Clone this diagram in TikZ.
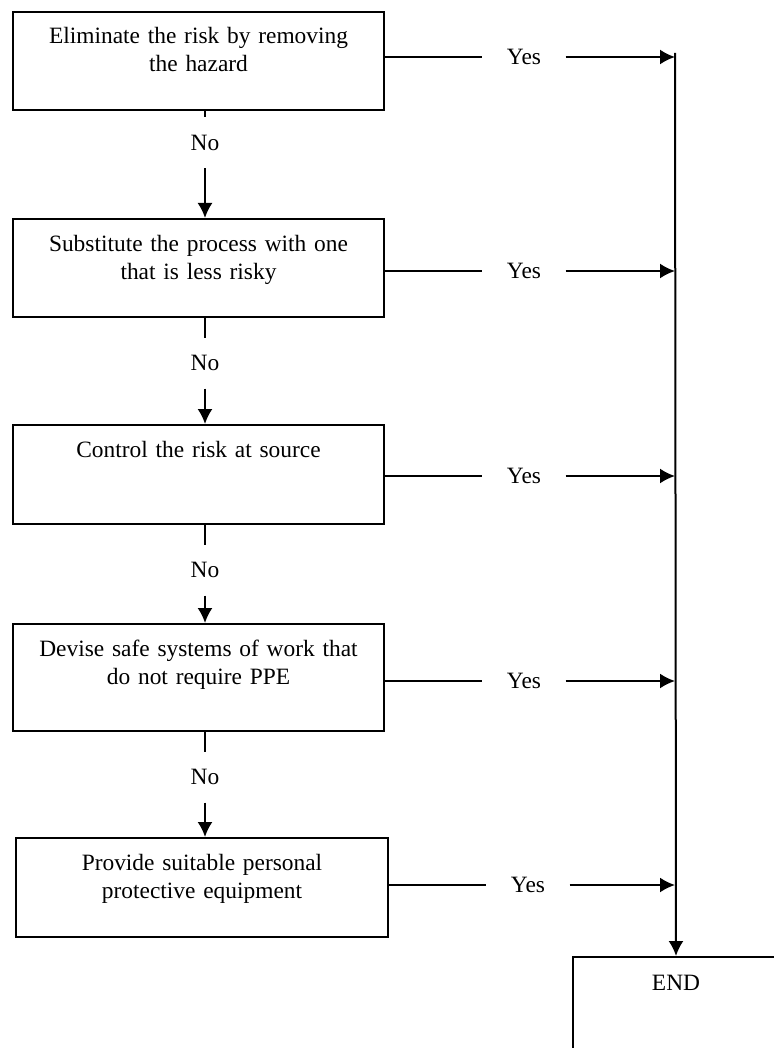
\documentclass[tikz,border=0pt]{standalone}
\usepackage{fontspec}
\setmainfont{Liberation Serif}
\usetikzlibrary{positioning, arrows.meta}

\begin{document}
\begin{tikzpicture}[
x=0.5pt, y=-0.5pt,
line width=1pt,
stepbox/.style 2 args={rectangle,
  draw=black,
  anchor=north west,
  inner sep=0pt,
  minimum width=#1,
  minimum height=#2
},
steptext/.style={
  text width=180pt,
  align=center,
  inner sep=0pt,
  font=\fontsize{11.7}{14}\selectfont
},
yesnode/.style={
  inner xsep=11.75pt,
  inner ysep=0pt,
  font=\fontsize{11.7}{14}\selectfont
},
nonode/.style={
  minimum height=24.5pt,
  inner sep=0pt,
  font=\fontsize{11.7}{14}\selectfont
},
>={Latex[length=7.5pt,width=7.5pt]}
]
\useasboundingbox (0,0) rectangle (773,1048);

\node[stepbox={185.5pt}{49pt}] (elim) at (12,10.7) {};
\node[steptext, below=8pt of elim.north] (elimtxt)
    {Eliminate the risk by removing\\the hazard};
\node[stepbox={185.5pt}{49pt}] (subst) at (12,218) {};
\node[steptext, below=8pt of subst.north] (substtxt)
    {Substitute the process with one\\that is less risky};
\node[stepbox={185.5pt}{49.5pt}] (ctrl) at (12,424) {};
\node[steptext, below=8pt of ctrl.north] (ctrltxt)
    {Control the risk at source};
\node[stepbox={185.5pt}{53.5pt}] (devise) at (12,623) {};
\node[steptext, below=8pt of devise.north] (devisetxt)
    {Devise safe systems of work that\\do not require PPE};
\node[stepbox={186pt}{49.5pt}] (ppe) at (15,837) {};
\node[steptext, below=8pt of ppe.north] (ppetxt)
    {Provide suitable personal\\protective equipment};
\node[stepbox={103pt}{60pt}] (endbox) at (572,956) {};
\node[steptext, below=9pt of endbox.north] (endtxt)
    {END};

\coordinate (top) at (675,53);
\draw[->] (top) -- (endbox.north);

\node[yesnode] (yes1) at (524,57) {Yes};
\node[yesnode] (yes2) at (524,271) {Yes};
\node[yesnode] (yes3) at (524,476) {Yes};
\node[yesnode] (yes4) at (524,681) {Yes};
\node[yesnode] (yes5) at (528,885) {Yes};

\draw (elim.east |- yes1) -- (yes1.west);
\draw[->] (yes1.east) -- (yes1 -| top);
\draw (subst.east |- yes2) -- (yes2.west);
\draw[->] (yes2.east) -- (yes2 -| top);
\draw (ctrl.east |- yes3) -- (yes3.west);
\draw[->] (yes3.east) -- (yes3 -| top);
\draw (devise.east |- yes4) -- (yes4.west);
\draw[->] (yes4.east) -- (yes4 -| top);
\draw (ppe.east |- yes5) -- (yes5.west);
\draw[->] (yes5.east) -- (yes5 -| top);

\node[nonode] (no1) at (205,143) {No};
\node[nonode] (no2) at (205,363) {No};
\node[nonode] (no3) at (205,570) {No};
\node[nonode] (no4) at (205,777) {No};

\draw (elim.south -| no1) -- (no1.north);
\draw[->] (no1.south) -- (subst.north -| no1);
\draw (subst.south -| no2) -- (no2.north);
\draw[->] (no2.south) -- (ctrl.north -| no2);
\draw (ctrl.south -| no3) -- (no3.north);
\draw[->] (no3.south) -- (devise.north -| no3);
\draw (devise.south -| no4) -- (no4.north);
\draw[->] (no4.south) -- (ppe.north -| no4);
\end{tikzpicture}
\end{document}
